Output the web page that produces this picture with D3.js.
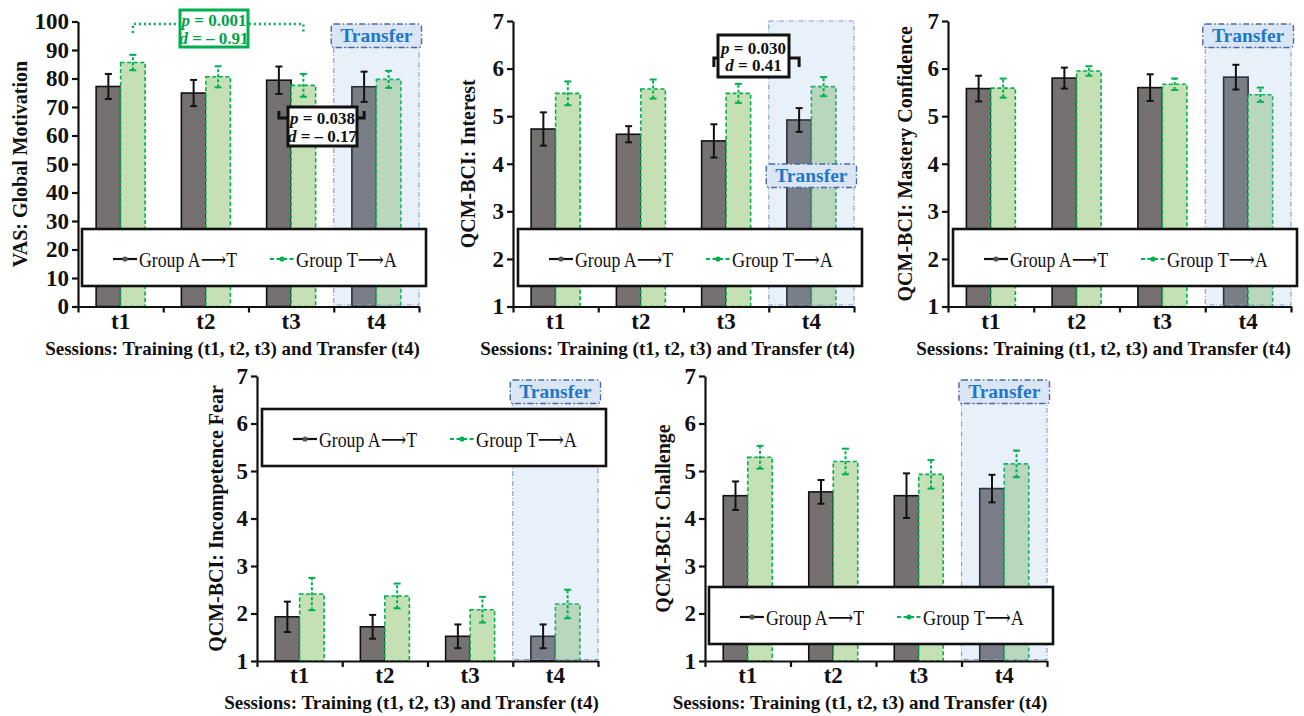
<!DOCTYPE html>
<html>
<head>
<meta charset="utf-8">
<script src="https://cdn.jsdelivr.net/npm/d3@7"></script>
<style>
  body { margin: 0; background: #fff; }
  svg, svg text { font-family: "Times New Roman", "Liberation Serif", "DejaVu Serif", serif; }
</style>
</head>
<body>
<svg id="fig" width="1304" height="716"></svg>
<script>
// ---- data ----
const sessions = ['t1', 't2', 't3', 't4'];
const groupNames = ['Group A\u27F6T', 'Group T\u27F6A'];

const vasA = [77.2, 74.9, 79.4, 77.1];
const vasAErr = [4.4, 4.6, 4.8, 5.3];
const vasT = [85.6, 80.6, 77.6, 79.7];
const vasTErr = [2.7, 3.7, 4.0, 3.0];

const interestA = [4.73, 4.62, 4.48, 4.92];
const interestAErr = [0.35, 0.17, 0.35, 0.25];
const interestT = [5.48, 5.57, 5.48, 5.62];
const interestTErr = [0.25, 0.2, 0.2, 0.2];

const masteryA = [5.58, 5.80, 5.60, 5.82];
const masteryAErr = [0.27, 0.22, 0.28, 0.26];
const masteryT = [5.59, 5.95, 5.67, 5.45];
const masteryTErr = [0.2, 0.1, 0.12, 0.15];

const fearA = [1.93, 1.72, 1.52, 1.52];
const fearAErr = [0.32, 0.25, 0.25, 0.25];
const fearT = [2.41, 2.37, 2.08, 2.2];
const fearTErr = [0.34, 0.26, 0.27, 0.3];

const challengeA = [4.48, 4.56, 4.48, 4.63];
const challengeAErr = [0.3, 0.25, 0.47, 0.29];
const challengeT = [5.29, 5.2, 4.93, 5.15];
const challengeTErr = [0.24, 0.27, 0.3, 0.28];

const vasTicks = [0, 10, 20, 30, 40, 50, 60, 70, 80, 90, 100];
const likertTicks = [1, 2, 3, 4, 5, 6, 7];

// significance annotations: panel, group, sessions compared, stats
const sigTests = [
  { panel: 0, group: 'T', from: 't1', to: 't3', p: '0.001', d: '\u2013 0.91' },
  { panel: 0, group: 'A', from: 't3', to: 't4', p: '0.038', d: '\u2013 0.17' },
  { panel: 1, group: 'A', from: 't3', to: 't4', p: '0.030', d: '0.41' }
];

// ---- layout ----
const FONT = '"Times New Roman", "Liberation Serif", serif';
const C = {
  dark: '#767171', green: '#c5e0b4', greenLine: '#00b050', greenText: '#00a348',
  regionTint: 'rgb(140,180,225)', regionLine: '#7f9cc8', tagFill: '#dae6f4',
  tagLine: '#4a68a2', tagText: '#1f77c8'
};
const barW = 24.5;

const panels = [
  { title: 'VAS: Global Motivation', A: vasA, Ae: vasAErr, T: vasT, Te: vasTErr, ticks: vasTicks,
    x0: 78, x1: 419, top: 21.5, bot: 306.5, titleDx: -58, legend: [82, 229], tagY: 24, tagFull: false },
  { title: 'QCM-BCI: Interest', A: interestA, Ae: interestAErr, T: interestT, Te: interestTErr, ticks: likertTicks,
    x0: 513, x1: 854, top: 21, bot: 306.5, titleDx: -45, legend: [518, 229], tagY: 164, tagFull: true },
  { title: 'QCM-BCI: Mastery Confidence', A: masteryA, Ae: masteryAErr, T: masteryT, Te: masteryTErr, ticks: likertTicks,
    x0: 948, x1: 1291, top: 21, bot: 306.5, titleDx: -43, legend: [953, 229], tagY: 24, tagFull: false },
  { title: 'QCM-BCI: Incompetence Fear', A: fearA, Ae: fearAErr, T: fearT, Te: fearTErr, ticks: likertTicks,
    x0: 257, x1: 598, top: 376, bot: 661, titleDx: -41, legend: [262, 409], tagY: 380, tagFull: false },
  { title: 'QCM-BCI: Challenge', A: challengeA, Ae: challengeAErr, T: challengeT, Te: challengeTErr, ticks: likertTicks,
    x0: 705, x1: 1047, top: 376, bot: 661, titleDx: -42, legend: [709, 587], tagY: 380, tagFull: false }
];

// bracket / box placement for each entry of sigTests
const sigLayout = [
  { y: 24, tip: 9, dotted: true, box: [180, 10, 68, 37] },
  { y: 118, tip: -7, dotted: false, box: [288, 107, 69, 39] },
  { y: 58, tip: 9, dotted: false, box: [718, 35, 71, 42] }
];

const svg = d3.select('#fig').attr('font-family', FONT);
const scales = [];

panels.forEach((cfg, i) => drawPanel(cfg, i));
sigTests.forEach((t, i) => drawSig(t, sigLayout[i]));

function drawPanel(cfg, idx) {
  const g = svg.append('g');
  const y = d3.scaleLinear()
    .domain([cfg.ticks[0], cfg.ticks[cfg.ticks.length - 1]])
    .range([cfg.bot, cfg.top]);
  const x = d3.scaleBand().domain(sessions).range([cfg.x0, cfg.x1]);
  const xg = d3.scaleBand().domain(['A', 'T'])
    .range([x.bandwidth() / 2 - barW, x.bandwidth() / 2 + barW]);
  scales[idx] = { x, xg, y };

  const rows = sessions.map((s, i) => ({ s, A: cfg.A[i], Ae: cfg.Ae[i], T: cfg.T[i], Te: cfg.Te[i] }));

  // bars
  g.append('g').selectAll('rect').data(rows).join('rect')
    .attr('x', d => x(d.s) + xg('A')).attr('width', xg.bandwidth())
    .attr('y', d => y(d.A)).attr('height', d => cfg.bot - y(d.A))
    .attr('fill', C.dark).attr('stroke', '#111').attr('stroke-width', 1.6);
  g.append('g').selectAll('rect').data(rows).join('rect')
    .attr('x', d => x(d.s) + xg('T')).attr('width', xg.bandwidth())
    .attr('y', d => y(d.T)).attr('height', d => cfg.bot - y(d.T))
    .attr('fill', C.green).attr('stroke', C.greenLine).attr('stroke-width', 1.6)
    .attr('stroke-dasharray', '4,2.5');

  // transfer region over t4
  const rx = x('t4'), rw = x.bandwidth();
  const tagH = 23.5;
  const regionTop = cfg.tagFull ? cfg.top : cfg.tagY + tagH;
  g.append('rect')
    .attr('x', rx).attr('y', regionTop).attr('width', rw).attr('height', cfg.bot - 1.5 - regionTop)
    .attr('fill', C.regionTint).attr('fill-opacity', 0.2)
    .attr('stroke', C.regionLine).attr('stroke-width', 1.1).attr('stroke-dasharray', '5,2,1,2');

  // error bars
  [['A', 'Ae', '#111', null], ['T', 'Te', C.greenLine, '3,2']].forEach(([k, ke, col, dash]) => {
    const eb = g.append('g').selectAll('g').data(rows).join('g')
      .attr('stroke', col).attr('stroke-width', 2);
    const cx = d => x(d.s) + xg(k) + xg.bandwidth() / 2;
    eb.append('line').attr('x1', cx).attr('x2', cx).attr('stroke-dasharray', dash)
      .attr('y1', d => y(d[k] - d[ke])).attr('y2', d => y(d[k] + d[ke]));
    eb.append('line').attr('x1', d => cx(d) - 3.5).attr('x2', d => cx(d) + 3.5)
      .attr('y1', d => y(d[k] + d[ke])).attr('y2', d => y(d[k] + d[ke]));
    eb.append('line').attr('x1', d => cx(d) - 3.5).attr('x2', d => cx(d) + 3.5)
      .attr('y1', d => y(d[k] - d[ke])).attr('y2', d => y(d[k] - d[ke]));
  });

  // axes
  const yAxis = g.append('g').attr('transform', `translate(${cfg.x0},0)`)
    .call(d3.axisLeft(y).tickValues(cfg.ticks).tickFormat(d3.format('d'))
      .tickSize(6).tickSizeOuter(0).tickPadding(3));
  const edge = d3.scaleLinear().domain([0, sessions.length]).range([cfg.x0, cfg.x1]);
  const xAxis = g.append('g').attr('transform', `translate(0,${cfg.bot})`)
    .call(d3.axisBottom(edge).ticks(sessions.length).tickSize(6).tickSizeOuter(0).tickFormat(''));
  [yAxis, xAxis].forEach(a => {
    a.attr('font-family', FONT);
    a.selectAll('path,line').attr('stroke', '#111').attr('stroke-width', 2.2);
  });
  yAxis.selectAll('text').attr('font-size', 23).attr('font-weight', 'bold').attr('fill', '#111');

  g.append('g').selectAll('text').data(sessions).join('text')
    .attr('x', d => x(d) + x.bandwidth() / 2).attr('y', cfg.bot + 22)
    .attr('text-anchor', 'middle').attr('font-size', 23).attr('font-weight', 'bold').attr('fill', '#111')
    .text(d => d);

  g.append('text')
    .attr('x', (cfg.x0 + cfg.x1) / 2 - 16).attr('y', cfg.bot + 48)
    .attr('text-anchor', 'middle').attr('font-size', 19).attr('font-weight', 'bold').attr('fill', '#111')
    .text('Sessions: Training (t1, t2, t3) and Transfer (t4)');

  g.append('text')
    .attr('transform', `translate(${cfg.x0 + cfg.titleDx},${(cfg.top + cfg.bot) / 2}) rotate(-90)`)
    .attr('text-anchor', 'middle').attr('dominant-baseline', 'central')
    .attr('font-size', 20).attr('font-weight', 'bold').attr('fill', '#111')
    .text(cfg.title);

  // legend
  const [lx, ly] = cfg.legend;
  const lg = g.append('g').attr('transform', `translate(${lx},${ly})`);
  lg.append('rect').attr('width', 344).attr('height', 57)
    .attr('fill', '#fff').attr('stroke', '#111').attr('stroke-width', 2.6);
  const items = [
    { name: groupNames[0], x: 31, col: '#111', dash: null, tl: 98 },
    { name: groupNames[1], x: 188, col: C.greenLine, dash: '4,2.5', tl: 101 }
  ];
  items.forEach(it => {
    lg.append('line').attr('x1', it.x).attr('x2', it.x + 24).attr('y1', 30).attr('y2', 30)
      .attr('stroke', it.col).attr('stroke-width', 2.2).attr('stroke-dasharray', it.dash);
    lg.append('circle').attr('cx', it.x + 12).attr('cy', 30).attr('r', 2.6)
      .attr('fill', it.col === '#111' ? '#555' : it.col);
    lg.append('text').attr('x', it.x + 26).attr('y', 38)
      .attr('font-size', 22).attr('fill', '#111')
      .attr('textLength', it.tl).attr('lengthAdjust', 'spacingAndGlyphs')
      .text(it.name);
  });

  // transfer tag
  const tg = g.append('g').attr('transform', `translate(${rx - 2.5},${cfg.tagY})`);
  tg.append('rect').attr('width', rw + 5).attr('height', tagH).attr('rx', 3)
    .attr('fill', C.tagFill).attr('stroke', C.tagLine).attr('stroke-width', 1.4)
    .attr('stroke-dasharray', '6,2.5,1.5,2.5');
  tg.append('text').attr('x', (rw + 5) / 2).attr('y', 18)
    .attr('text-anchor', 'middle').attr('font-size', 19.5).attr('font-weight', 'bold')
    .attr('fill', C.tagText).text('Transfer');
}

function drawSig(t, lay) {
  const { x, xg, y } = scales[t.panel];
  const px = s => x(s) + xg(t.group) + xg.bandwidth() / 2;
  const col = t.group === 'T' ? C.greenLine : '#111';
  const txtCol = t.group === 'T' ? C.greenText : '#111';
  const x1 = px(t.from), x2 = px(t.to);
  svg.append('path')
    .attr('d', `M${x1},${lay.y + lay.tip}V${lay.y}H${x2}V${lay.y + lay.tip}`)
    .attr('fill', 'none').attr('stroke', col)
    .attr('stroke-width', lay.dotted ? 2.4 : 3)
    .attr('stroke-dasharray', lay.dotted ? '2,3' : null);
  const [bx, by, bw, bh] = lay.box;
  svg.append('rect').attr('x', bx).attr('y', by).attr('width', bw).attr('height', bh)
    .attr('fill', '#fff').attr('stroke', col).attr('stroke-width', 3);
  const lines = [['p', t.p], ['d', t.d]];
  lines.forEach(([sym, val], i) => {
    const tx = svg.append('text')
      .attr('x', bx + bw / 2).attr('y', by + (bh - 37) / 2 + 16 + i * 17.5)
      .attr('text-anchor', 'middle').attr('font-size', 17).attr('font-weight', 'bold').attr('fill', txtCol);
    tx.append('tspan').attr('font-style', 'italic').text(sym);
    tx.append('tspan').text(' = ' + val);
  });
}
</script>
</body>
</html>
